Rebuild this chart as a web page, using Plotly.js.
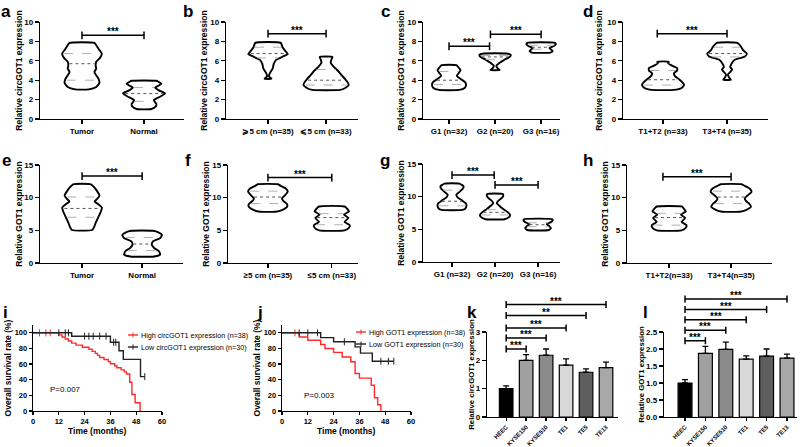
<!DOCTYPE html>
<html>
<head>
<meta charset="utf-8">
<script src="https://cdn.plot.ly/plotly-3.0.1.min.js"></script>
<style>
  html, body { margin: 0; padding: 0; background: #fff; }
  #fig { width: 800px; height: 447px; }
</style>
</head>
<body>
<div id="fig"></div>
<script>
// ---- values ----
// violin outlines: [value, half width in category units], quartiles: [q1, median, q3]
const aTumor = [[3.05,.11],[3.3,.23],[3.7,.28],[4.1,.27],[4.5,.23],[4.85,.2],[5.2,.23],[5.5,.22],[5.9,.23],[6.3,.29],[6.75,.32],[7.2,.27],[7.6,.23],[7.85,.2]];
const aTumorQ = [4.0, 5.7, 6.75];
const aNormal = [[1.03,.12],[1.3,.19],[1.54,.2],[1.8,.17],[1.95,.16],[2.3,.26],[2.64,.34],[2.95,.24],[3.25,.18],[3.45,.24],[3.66,.28],[3.85,.23],[3.94,.2]];
const aNormalQ = [1.82, 2.62, 3.25];

const bBig = [[4.15,.06],[4.4,.015],[4.7,.03],[5.2,.08],[5.7,.1],[6.1,.14],[6.45,.26],[6.7,.34],[7.0,.3],[7.4,.25],[7.85,.22]];
const bBigQ = [6.3, 6.75, 7.4];
const bSmall = [[3.0,.24],[3.2,.33],[3.5,.39],[3.8,.37],[4.1,.33],[4.5,.27],[5.0,.2],[5.4,.13],[5.8,.08],[6.1,.09],[6.4,.11]];
const bSmallQ = [3.5, 4.0, 5.1];

const cG1 = [[3.0,.22],[3.2,.34],[3.5,.37],[3.8,.35],[4.1,.26],[4.45,.17],[4.8,.22],[5.05,.25],[5.3,.21],[5.55,.16]];
const cG1Q = [3.55, 4.0, 4.9];
const cG2 = [[5.05,.1],[5.3,.04],[5.5,.03],[5.8,.1],[6.1,.2],[6.4,.32],[6.6,.34],[6.75,.25]];
const cG2Q = [6.15, 6.4, 6.55];
const cG3 = [[6.85,.2],[7.0,.25],[7.15,.22],[7.3,.18],[7.5,.27],[7.7,.32],[7.85,.3]];
const cG3Q = [7.2, 7.4, 7.6];

const dT12 = [[3.0,.17],[3.2,.29],[3.5,.33],[3.8,.3],[4.1,.25],[4.4,.19],[4.7,.17],[5.0,.22],[5.25,.22],[5.5,.14],[5.75,.08],[5.9,.09]];
const dT12Q = [3.5, 4.05, 5.0];
const dT34 = [[4.05,.06],[4.3,.03],[4.6,.015],[4.85,.05],[5.1,.08],[5.35,.05],[5.7,.07],[6.1,.12],[6.45,.28],[6.75,.31],[7.1,.25],[7.45,.22],[7.85,.16]];
const dT34Q = [6.4, 6.75, 7.4];

const eTumor = [[5.05,.17],[5.5,.2],[6.2,.23],[7.0,.27],[7.8,.31],[8.5,.33],[9.0,.27],[9.4,.21],[9.8,.25],[10.3,.29],[11.0,.25],[11.6,.2],[12.05,.15]];
const eTumorQ = [7.0, 8.35, 10.1];
const eNormal = [[1.0,.2],[1.3,.3],[1.8,.28],[2.3,.2],[2.8,.16],[3.3,.18],[3.8,.3],[4.3,.33],[4.7,.27],[4.93,.18]];
const eNormalQ = [1.9, 2.9, 3.9];

const fBig = [[7.85,.12],[8.1,.22],[8.6,.3],[9.0,.3],[9.5,.24],[9.9,.22],[10.3,.26],[10.9,.31],[11.4,.28],[11.8,.2],[12.05,.16]];
const fBigQ = [9.1, 10.1, 11.0];
const fSmall = [[5.0,.2],[5.4,.27],[5.8,.28],[6.3,.2],[6.9,.26],[7.4,.19],[7.9,.27],[8.3,.24],[8.65,.2]];
const fSmallQ = [5.85, 6.95, 7.55];

const gG1 = [[8.0,.27],[8.4,.33],[8.9,.33],[9.4,.24],[9.9,.13],[10.3,.1],[10.7,.17],[11.2,.25],[11.6,.27],[12.0,.17]];
const gG1Q = [8.6, 9.3, 11.0];
const gG2 = [[6.55,.22],[6.9,.33],[7.2,.35],[7.6,.3],[8.1,.19],[8.6,.1],[9.0,.04],[9.4,.08],[9.8,.16],[10.1,.19],[10.4,.18]];
const gG2Q = [7.2, 7.6, 8.0];
const gG3 = [[4.9,.25],[5.2,.3],[5.5,.26],[5.8,.2],[6.1,.3],[6.35,.34],[6.55,.33]];
const gG3Q = [5.4, 5.7, 6.0];

const hT12 = [[5.0,.2],[5.4,.27],[5.8,.28],[6.3,.2],[6.9,.26],[7.4,.19],[7.9,.27],[8.3,.24],[8.65,.2]];
const hT12Q = [5.8, 6.95, 7.6];
const hT34 = [[7.85,.14],[8.1,.24],[8.6,.32],[9.0,.3],[9.5,.24],[9.9,.22],[10.3,.26],[10.9,.33],[11.4,.3],[11.8,.22],[12.05,.17]];
const hT34Q = [9.1, 10.1, 11.0];

// significance brackets: [from, to, height, label]
const aBr = [[0, 1, 8.63, '***']];
const bBr = [[0, 1, 8.8, '***']];
const cBr = [[0, 0.88, 7.5, '***'], [0.9, 2, 8.73, '***']];
const dBr = [[-0.09, 1, 8.8, '***']];
const eBr = [[0, 1, 13.3, '***']];
const fBr = [[0, 1, 13.07, '***']];
const gBr = [[0, 0.98, 13.3, '***'], [1, 2, 11.8, '***']];
const hBr = [[-0.1, 1, 13.2, '***']];

const tumorLabels = ['Tumor', 'Normal'];
const sizeLabels1 = ['\u2A7E5 cm (n=35)', '\u2A7D5 cm (n=33)'];
const sizeLabels2 = ['\u22655 cm (n=35)', '\u22645 cm (n=33)'];
const gradeLabels = ['G1 (n=32)', 'G2 (n=20)', 'G3 (n=16)'];
const stageLabels1 = ['T1+T2 (n=33)', 'T3+T4 (n=35)'];
const stageLabels2 = ['T1+T2(n=33)', 'T3+T4(n=35)'];

// Kaplan-Meier curves (time in months, survival %)
const iHighT = [0, 12, 13.5, 15, 16.5, 18, 20, 23, 26, 27.5, 29, 30, 31, 33, 35, 36, 38, 39, 41, 42.5, 43.5, 45, 46, 47.5, 49.8];
const iHighS = [100, 97.4, 94.7, 92.1, 89.5, 86.8, 84.2, 81.6, 78.9, 76.3, 73.7, 71.1, 68.4, 65.8, 63.2, 60.5, 57.9, 55.3, 52.6, 50, 47.4, 36.8, 21.1, 10.5, 0];
const iHighCensT = [3, 6, 8];
const iHighCensS = [100, 100, 100];
const iLowT = [0, 18, 36, 40, 42, 50, 52];
const iLowS = [100, 95.7, 88, 77, 66, 44, 44];
const iLowCensT = [12, 15, 16.5, 24, 26, 28, 31, 34, 37.5, 38.5, 52];
const iLowCensS = [100, 100, 100, 95.7, 95.7, 95.7, 95.7, 95.7, 88, 88, 44];

const jHighT = [0, 8, 12, 18, 20, 24, 28, 32, 34, 36, 41.5, 43, 44.5, 46];
const jHighS = [100, 94.7, 90.5, 85, 80, 75, 69, 63, 48, 42, 33, 17, 8, 0];
const jHighCensT = [6];
const jHighCensS = [100];
const jLowT = [0, 18, 24, 34, 36.5, 42, 52];
const jLowS = [100, 93.8, 88.5, 82, 74, 63.7, 63.7];
const jLowCensT = [8, 12, 16.5, 29, 46, 49.5, 52];
const jLowCensS = [100, 100, 100, 88.5, 63.7, 63.7, 63.7];

const iLegend = ['High circGOT1 expression (n=38)', 'Low circGOT1 expression (n=30)'];
const jLegend = ['High GOT1 expression (n=38)', 'Low GOT1 expression (n=30)'];
const kmColors = ['#ff2a2a', '#222222'];

// cell line bars
const cellLines = ['HEEC', 'KYSE150', 'KYSE510', 'TE1', 'TE5', 'TE13'];
const barColors = ['#000000', '#a0a0a0', '#8a8a8a', '#d8d8d8', '#5e5e5e', '#a8a8a8'];
const kVals = [1.0, 2.0, 2.18, 1.83, 1.58, 1.74];
const kErr = [0.1, 0.2, 0.22, 0.22, 0.12, 0.2];
const kBrY = [2.4, 2.79, 3.14, 3.58, 3.97];
const kBrTxt = ['***', '***', '***', '**', '***'];
const lVals = [1.0, 1.87, 1.99, 1.7, 1.79, 1.73];
const lErr = [0.1, 0.21, 0.21, 0.1, 0.21, 0.12];
const lBrY = [2.24, 2.55, 2.86, 3.16, 3.47];
const lBrTxt = ['***', '***', '***', '***', '***'];

// ---- layout helpers ----
const FONT = 'Liberation Sans, Arial, sans-serif';
const W = 800, H = 447;
const fx = v => v / W;
const fy = v => 1 - v / H;

const traces = [];
const annotations = [];
const shapes = [];
const layout = {
    width: W, height: H,
    margin: { l: 0, r: 0, t: 0, b: 0 },
    paper_bgcolor: '#fff', plot_bgcolor: 'rgba(0,0,0,0)',
    font: { family: FONT, color: '#000' },
    showlegend: false,
    annotations: annotations,
    shapes: shapes,
};

function axKey(c, n) { return c + 'axis' + (n === 1 ? '' : n); }
function axId(c, n) { return c + (n === 1 ? '' : n); }

function baseAxis() {
    return {
        showline: true, linecolor: '#000', linewidth: 1.3,
        ticks: 'outside', ticklen: 4, tickwidth: 1.3, tickcolor: '#000',
        showgrid: false, zeroline: false, fixedrange: true,
        tickfont: { family: FONT, size: 8, color: '#000', weight: 'bold' },
    };
}

// box = [left, right, top, bottom] in px
function addPanel(n, box, xr, yr, xopt, yopt, ytitle, standoff, titleSize) {
    layout[axKey('x', n)] = Object.assign(baseAxis(), {
        domain: [fx(box[0]), fx(box[1])], anchor: axId('y', n), range: xr,
    }, xopt);
    layout[axKey('y', n)] = Object.assign(baseAxis(), {
        domain: [fy(box[3]), fy(box[2])], anchor: axId('x', n), range: yr,
        title: { text: ytitle, font: { size: titleSize || 8.5, weight: 'bold' }, standoff: standoff },
    }, yopt);
}

function widthAt(profile, v) {
    for (let i = 1; i < profile.length; i++) {
        if (v <= profile[i][0]) {
            const t = (v - profile[i - 1][0]) / (profile[i][0] - profile[i - 1][0]);
            return profile[i - 1][1] + t * (profile[i][1] - profile[i - 1][1]);
        }
    }
    return profile[profile.length - 1][1];
}

function addViolin(n, center, profile, quart) {
    const ys = profile.map(p => p[0]);
    const rx = profile.map(p => center + p[1]);
    const lx = profile.map(p => center - p[1]).reverse();
    traces.push({
        x: rx.concat(lx, [rx[0]]),
        y: ys.concat(ys.slice().reverse(), [ys[0]]),
        xaxis: axId('x', n), yaxis: axId('y', n),
        mode: 'lines', fill: 'toself', fillcolor: '#fff',
        line: { color: '#000', width: 1.9, shape: 'spline', smoothing: 0.5 },
        hoverinfo: 'skip',
    });
    quart.forEach((q, i) => {
        const w = widthAt(profile, q) * 0.9;
        traces.push({
            x: [center - w, center + w], y: [q, q],
            xaxis: axId('x', n), yaxis: axId('y', n),
            mode: 'lines',
            line: { color: i === 1 ? '#555' : '#b0b0b0', width: 1, dash: i === 1 ? 'dot' : 'dash' },
            hoverinfo: 'skip',
        });
    });
}

// tick = half height of bracket ends, in data units
function addBrackets(n, yAxisN, list, tick) {
    list.forEach(b => {
        const [x0, x1, yv, label] = b;
        traces.push({
            x: [x0, x0, x0, x1, x1, x1],
            y: [yv - tick, yv + tick, yv, yv, yv + tick, yv - tick],
            xaxis: axId('x', n), yaxis: axId('y', yAxisN),
            mode: 'lines', line: { color: '#000', width: 1.5 },
            hoverinfo: 'skip',
        });
        annotations.push({
            x: (x0 + x1) / 2, y: yv, xref: axId('x', n), yref: axId('y', yAxisN),
            text: label, showarrow: false, yanchor: 'bottom', yshift: -4,
            font: { size: 10, weight: 'bold' },
        });
    });
}

// ---- row 1: circGOT1 violins ----
const circTitle = 'Relative circGOT1 expression';
const gotTitle = 'Relative GOT1 expression';
const yRow1 = { tickvals: [0, 2, 4, 6, 8, 10] };
const yRow2 = { tickvals: [0, 5, 10, 15] };

addPanel(1, [40, 184, 22, 119], [-0.677, 1.645], [0, 10], { tickvals: [0, 1], ticktext: tumorLabels }, yRow1, circTitle, 0);
addViolin(1, 0, aTumor, aTumorQ); addViolin(1, 1, aNormal, aNormalQ);
addBrackets(1, 1, aBr, 0.4);

addPanel(2, [226, 358, 22, 119], [-0.724, 1.55], [0, 10], { tickvals: [0, 1], ticktext: sizeLabels1 }, yRow1, circTitle, 1);
addViolin(2, 0, bBig, bBigQ); addViolin(2, 1, bSmall, bSmallQ);
addBrackets(2, 2, bBr, 0.4);

addPanel(3, [423, 560, 22, 119], [-0.565, 2.41], [0, 10], { tickvals: [0, 1, 2], ticktext: gradeLabels }, yRow1, circTitle, 1);
addViolin(3, 0, cG1, cG1Q); addViolin(3, 1, cG2, cG2Q); addViolin(3, 2, cG3, cG3Q);
addBrackets(3, 3, cBr, 0.4);

addPanel(4, [623, 768, 22, 119], [-0.625, 1.64], [0, 10], { tickvals: [0, 1], ticktext: stageLabels1 }, yRow1, circTitle, 3);
addViolin(4, 0, dT12, dT12Q); addViolin(4, 1, dT34, dT34Q);
addBrackets(4, 4, dBr, 0.4);

// ---- row 2: GOT1 violins ----
addPanel(5, [40, 183, 165, 263], [-0.7, 1.68], [0, 15], { tickvals: [0, 1], ticktext: tumorLabels }, yRow2, gotTitle, 0);
addViolin(5, 0, eTumor, eTumorQ); addViolin(5, 1, eNormal, eNormalQ);
addBrackets(5, 5, eBr, 0.6);

addPanel(6, [228, 358, 165, 263], [-0.625, 1.41], [0, 15], { tickvals: [0, 1], ticktext: sizeLabels2 }, yRow2, gotTitle, 1);
addViolin(6, 0, fBig, fBigQ); addViolin(6, 1, fSmall, fSmallQ);
addBrackets(6, 6, fBr, 0.6);

addPanel(7, [423, 560, 164, 262], [-0.674, 2.51], [0, 15], { tickvals: [0, 1, 2], ticktext: gradeLabels }, yRow2, gotTitle, 1);
addViolin(7, 0, gG1, gG1Q); addViolin(7, 1, gG2, gG2Q); addViolin(7, 2, gG3, gG3Q);
addBrackets(7, 7, gBr, 0.6);

addPanel(8, [627, 772, 165, 263], [-0.68, 1.66], [0, 15], { tickvals: [0, 1], ticktext: stageLabels2 }, yRow2, gotTitle, 1);
addViolin(8, 0, hT12, hT12Q); addViolin(8, 1, hT34, hT34Q);
addBrackets(8, 8, hBr, 0.6);

// ---- row 3: survival ----
const kmFont = { family: FONT, size: 7.5, color: '#000', weight: 'bold' };
const kmX = { tickvals: [0, 12, 24, 36, 48, 60], tickfont: kmFont, ticklen: 3 };
const kmY = { tickvals: [0, 20, 40, 60, 80, 100], tickfont: kmFont, ticklen: 3 };
const survTitle = 'Overall survival rate (%)';

function addKM(n, t, s, ct, cs, color) {
    traces.push({
        x: t, y: s, xaxis: axId('x', n), yaxis: axId('y', n),
        mode: 'lines', line: { color: color, width: 1.4, shape: 'hv' },
        hoverinfo: 'skip',
    });
    traces.push({
        x: ct, y: cs, xaxis: axId('x', n), yaxis: axId('y', n),
        mode: 'markers',
        marker: { symbol: 'line-ns-open', size: 5, color: color, line: { color: color, width: 1 } },
        hoverinfo: 'skip',
    });
}

// small hand-made legend: key line with a censor tick, then the label
function addKey(left, rowsPx, labels) {
    labels.forEach((txt, i) => {
        const yk = fy(rowsPx[i]);
        shapes.push({ type: 'line', xref: 'paper', yref: 'paper', x0: fx(left), x1: fx(left + 10), y0: yk, y1: yk, line: { color: kmColors[i], width: 1.4 } });
        shapes.push({ type: 'line', xref: 'paper', yref: 'paper', x0: fx(left + 5), x1: fx(left + 5), y0: fy(rowsPx[i] - 2.5), y1: fy(rowsPx[i] + 2.5), line: { color: kmColors[i], width: 1 } });
        annotations.push({ x: fx(left + 11), y: yk, xref: 'paper', yref: 'paper', text: txt, showarrow: false, xanchor: 'left', yanchor: 'middle', font: { size: 7.2 } });
    });
}

function timeTitle(n) {
    annotations.push({ x: 0.5, y: fy(431), xref: axId('x', n) + ' domain', yref: 'paper', text: 'Time (months)', showarrow: false, yanchor: 'middle', font: { size: 8.5, weight: 'bold' } });
}

addPanel(9, [33, 162, 325, 411], [0, 60], [0, 110], kmX, kmY, survTitle, 1);
addKM(9, iHighT, iHighS, iHighCensT, iHighCensS, kmColors[0]);
addKM(9, iLowT, iLowS, iLowCensT, iLowCensS, kmColors[1]);
annotations.push({ x: 7, y: 28, xref: 'x9', yref: 'y9', text: 'P=0.007', showarrow: false, xanchor: 'left', font: { size: 8 } });
addKey(128, [335, 347], iLegend);
timeTitle(9);

addPanel(10, [282, 411, 325, 411], [0, 60], [0, 110], kmX, kmY, survTitle, 1);
addKM(10, jHighT, jHighS, jHighCensT, jHighCensS, kmColors[0]);
addKM(10, jLowT, jLowS, jLowCensT, jLowCensS, kmColors[1]);
annotations.push({ x: 9.3, y: 20, xref: 'x10', yref: 'y10', text: 'P=0.003', showarrow: false, xanchor: 'left', font: { size: 8 } });
addKey(356, [332, 344], jLegend);
timeTitle(10);

// ---- row 3: cell line bars ----
function addBars(n, nBr, box, topPx, xr, yr, yopt, vals, err, brY, brTxt, ytitle) {
    addPanel(n, box, xr, yr, {
        tickvals: [0, 1, 2, 3, 4, 5], ticktext: cellLines, tickangle: -45, ticklen: 3,
        tickfont: { family: FONT, size: 6, color: '#000', weight: 'bold' },
    }, yopt, ytitle, 0, 7.8);
    // taller invisible axis with the same scale, for the brackets above the axis top
    const scale = (box[3] - box[2]) / (yr[1] - yr[0]);
    layout[axKey('y', nBr)] = {
        domain: [fy(box[3]), fy(topPx)], anchor: axId('x', n),
        range: [0, (box[3] - topPx) / scale], visible: false, fixedrange: true,
    };
    traces.push({
        type: 'bar', x: cellLines.map((c, i) => i), y: vals, width: 0.68,
        xaxis: axId('x', n), yaxis: axId('y', n),
        marker: { color: barColors, line: { color: '#000', width: 1.2 } },
        error_y: { type: 'data', symmetric: false, array: err, arrayminus: err.map(() => 0), color: '#000', thickness: 1.3, width: 3 },
        hoverinfo: 'skip',
    });
    addBrackets(n, nBr, brY.map((y, i) => [0, i + 1, y, brTxt[i]]), 3.5 / scale);
}

addBars(11, 13, [487, 618, 332, 417], 290, [-0.96, 5.6], [0, 3], { tickvals: [0, 1, 2, 3] }, kVals, kErr, kBrY, kBrTxt, circTitle);
addBars(12, 14, [664, 797, 332, 417], 290, [-1.03, 5.49], [0, 2.5], { tickvals: [0, 0.5, 1, 1.5, 2, 2.5], tickformat: '.1f' }, lVals, lErr, lBrY, lBrTxt, gotTitle);

// ---- panel letters ----
const panelLetters = ['a', 'b', 'c', 'd', 'e', 'f', 'g', 'h', 'i', 'j', 'k', 'l'];
const letterPos = [[6, 12], [188, 12], [385, 12], [588, 12], [6, 160], [188, 160], [385, 160], [588, 160], [5, 312], [260, 312], [472, 312], [645, 312]];
panelLetters.forEach((t, i) => {
    annotations.push({
        x: fx(letterPos[i][0]), y: fy(letterPos[i][1]), xref: 'paper', yref: 'paper',
        text: t, showarrow: false, xanchor: 'center', yanchor: 'middle',
        font: { size: 17, weight: 'bold' },
    });
});

Plotly.newPlot('fig', traces, layout, { displayModeBar: false, staticPlot: true });
</script>
</body>
</html>
